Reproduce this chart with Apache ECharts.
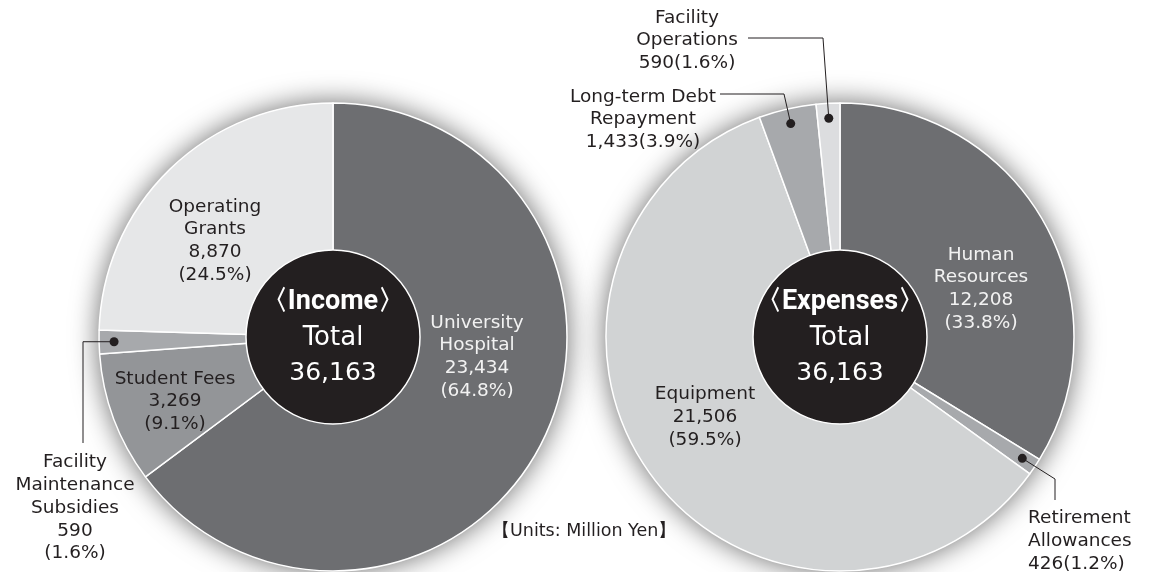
<!DOCTYPE html>
<html>
<head>
<meta charset="utf-8">
<script src="https://cdn.jsdelivr.net/npm/echarts@6/dist/echarts.min.js"></script>
<style>
  html, body { margin: 0; padding: 0; background: #ffffff; }
  #chart { width: 1154px; height: 572px; }
</style>
</head>
<body>
<div id="chart"></div>
<script>
// Income breakdown (million yen), clockwise from 12 o'clock
const incomeCategories = ['University\nHospital', 'Student Fees', 'Facility\nMaintenance\nSubsidies', 'Operating\nGrants'];
const incomeValues = [23434, 3269, 590, 8870];
const incomePercents = [64.8, 9.1, 1.6, 24.5];

// Expense breakdown (million yen), clockwise from 12 o'clock
const expenseCategories = ['Human\nResources', 'Retirement\nAllowances', 'Equipment', 'Long-term Debt\nRepayment', 'Facility\nOperations'];
const expenseValues = [12208, 426, 21506, 1433, 590];
const expensePercents = [33.8, 1.2, 59.5, 3.9, 1.6];

const incomeTitle = '〈Income〉';
const expenseTitle = '〈Expenses〉';
const totalWord = 'Total';
const unitsNote = '【Units: Million Yen】';

// ---- styling / layout ----
const FONT = "'DejaVu Sans', 'Noto Sans', sans-serif";
const DARK = '#231f20';
const LIGHT_TEXT = '#f2f2f2';
const R_OUT = 234, R_IN = 87;
const incomeCenter = [333, 337];
const expenseCenter = [840, 337];

const incomeColors = ['#6d6e71', '#939598', '#a7a9ac', '#e6e7e8'];
const expenseColors = ['#6d6e71', '#a7a9ac', '#d1d3d4', '#a7a9ac', '#dcdddf'];
const incomeTextColors = [LIGHT_TEXT, DARK, DARK, DARK];
const expenseTextColors = [LIGHT_TEXT, DARK, DARK, DARK, DARK];

// label anchor spots (text block centre, or left edge when align is 'left')
const incomeSpots = [
  { x: 477, y: 357, align: 'center' },
  { x: 175, y: 401.5, align: 'center' },
  { x: 75,  y: 508, align: 'center' },
  { x: 215, y: 241, align: 'center' }
];
const expenseSpots = [
  { x: 981,  y: 289, align: 'center' },
  { x: 1028, y: 541, align: 'left' },
  { x: 705,  y: 417, align: 'center' },
  { x: 643,  y: 119.5, align: 'center' },
  { x: 687,  y: 40.5,  align: 'center' }
];
// labels that put value and share on one line
const incomeInline = [false, false, false, false];
const expenseInline = [false, true, false, true, true];

// leader lines from a dot inside the slice to an outside label
const incomeLeaders = { 2: d => [[83, d[1]], [83, 443]] };
const expenseLeaders = {
  1: d => [[1055, 479], [1055, 500]],
  3: d => [[784, 94], [720, 94]],
  4: d => [[823, 38], [748, 38]]
};
const DOT_R = 219;

const fmt = v => v.toLocaleString('en-US');
const sum = arr => arr.reduce((a, b) => a + b, 0);

function sliceData(names, values, percents, colors, textColors, inline) {
  return names.map((n, i) => ({
    name: n,
    value: values[i],
    itemStyle: { color: colors[i] },
    label: {
      color: textColors[i],
      formatter: n + '\n' + fmt(values[i]) + (inline[i] ? '' : '\n') + '(' + percents[i].toFixed(1) + '%)'
    }
  }));
}

function dotPoint(center, values, idx, r) {
  const total = sum(values);
  const before = sum(values.slice(0, idx));
  const frac = (before + values[idx] / 2) / total;
  const a = frac * Math.PI * 2;
  return [center[0] + r * Math.sin(a), center[1] - r * Math.cos(a)];
}

function leaderGraphics(center, values, leaders) {
  const out = [];
  Object.keys(leaders).forEach(k => {
    const idx = +k;
    const d = dotPoint(center, values, idx, DOT_R);
    out.push({
      type: 'polyline', z: 100,
      shape: { points: [d].concat(leaders[k](d)) },
      style: { stroke: DARK, lineWidth: 1, fill: null }
    });
    out.push({
      type: 'circle', z: 101,
      shape: { cx: d[0], cy: d[1], r: 4.5 },
      style: { fill: DARK }
    });
  });
  return out;
}

function shadowSeries(center, values) {
  return {
    type: 'pie', silent: true, center: center, radius: [0, R_OUT],
    label: { show: false }, labelLine: { show: false },
    itemStyle: { color: '#ffffff', shadowBlur: 28, shadowColor: 'rgba(0,0,0,0.6)' },
    data: [{ value: sum(values), name: '' }]
  };
}

function mainSeries(center, data, spots) {
  return {
    type: 'pie', center: center, radius: [0, R_OUT], startAngle: 90, clockwise: true,
    silent: true,
    itemStyle: { borderColor: '#ffffff', borderWidth: 1.5 },
    label: {
      show: true, position: 'inside', fontFamily: FONT, fontSize: 18.5, lineHeight: 22.7,
      textBorderWidth: 0
    },
    labelLine: { show: false },
    labelLayout: p => {
      const s = spots[p.dataIndex];
      return { x: s.x, y: s.y, align: s.align, verticalAlign: 'middle' };
    },
    data: data
  };
}

function hubSeries(center, title, values) {
  return {
    type: 'pie', center: center, radius: [0, R_IN], silent: true,
    itemStyle: { color: DARK, borderColor: '#ffffff', borderWidth: 1.5 },
    labelLine: { show: false },
    label: {
      show: true, position: 'center',
      formatter: '{h|' + title + '}\n{t|' + totalWord + '}\n{n|' + fmt(sum(values)) + '}',
      rich: {
        h: { fontFamily: "Roboto, 'Noto Sans', sans-serif", fontWeight: 'bold', fontSize: 27, color: '#ffffff', lineHeight: 37 },
        t: { fontFamily: FONT, fontSize: 26, color: '#ffffff', lineHeight: 35 },
        n: { fontFamily: FONT, fontSize: 25, color: '#ffffff', lineHeight: 35 }
      }
    },
    data: [{ value: sum(values), name: title }]
  };
}

const chart = echarts.init(document.getElementById('chart'), null, { renderer: 'canvas' });
chart.setOption({
  animation: false,
  backgroundColor: '#ffffff',
  series: [
    shadowSeries(incomeCenter, incomeValues),
    shadowSeries(expenseCenter, expenseValues),
    mainSeries(incomeCenter, sliceData(incomeCategories, incomeValues, incomePercents, incomeColors, incomeTextColors, incomeInline), incomeSpots),
    mainSeries(expenseCenter, sliceData(expenseCategories, expenseValues, expensePercents, expenseColors, expenseTextColors, expenseInline), expenseSpots),
    hubSeries(incomeCenter, incomeTitle, incomeValues),
    hubSeries(expenseCenter, expenseTitle, expenseValues)
  ],
  graphic: leaderGraphics(incomeCenter, incomeValues, incomeLeaders)
    .concat(leaderGraphics(expenseCenter, expenseValues, expenseLeaders))
    .concat([{
      type: 'text', left: 492, top: 522, z: 100,
      style: { text: unitsNote, fontFamily: FONT, fontSize: 17.5, fill: DARK }
    }])
});
</script>
</body>
</html>
